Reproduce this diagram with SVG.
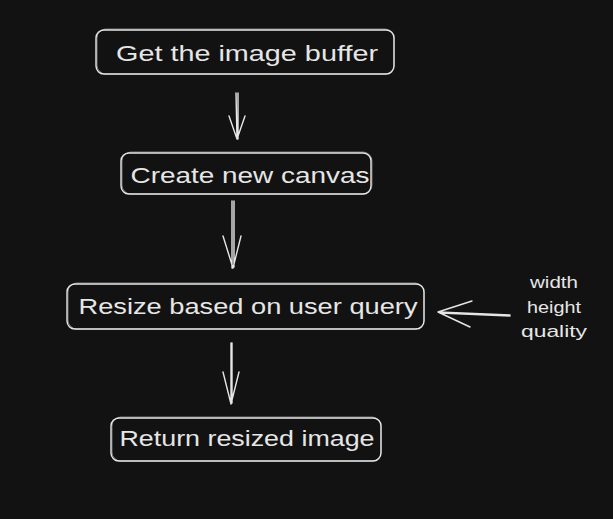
<svg xmlns="http://www.w3.org/2000/svg" width="613" height="519" viewBox="0 0 613 519">
<style>
.bx{fill:none;stroke:#e6e6e6;stroke-width:1.4}
.bx2{fill:none;stroke:#e6e6e6;stroke-width:0.8;opacity:0.6}
.t{font-family:"Liberation Sans","DejaVu Sans",sans-serif;font-size:22px;fill:#e6e6e6;text-anchor:middle}
.s{font-family:"Liberation Sans","DejaVu Sans",sans-serif;font-size:17px;fill:#e6e6e6;text-anchor:middle}
.ln{fill:none;stroke:#e6e6e6;stroke-width:1.4;stroke-linecap:round;stroke-linejoin:round}
</style>
<rect width="613" height="519" fill="#121212"/>
<g id="n1">
<rect class="bx" x="96" y="30" width="298" height="44" rx="8"/>
<rect class="bx2" x="97" y="29" width="297" height="45" rx="9"/>
<text class="t" x="247" y="61" textLength="262" lengthAdjust="spacingAndGlyphs">Get the image buffer</text>
</g>
<g id="n2">
<rect class="bx" x="121" y="153" width="250" height="41" rx="8"/>
<rect class="bx2" x="122" y="152" width="250" height="42" rx="9"/>
<text class="t" x="250" y="183" textLength="239" lengthAdjust="spacingAndGlyphs">Create new canvas</text>
</g>
<g id="n3">
<rect class="bx" x="67" y="284" width="357" height="45" rx="8"/>
<rect class="bx2" x="68" y="283" width="356" height="46" rx="9"/>
<text class="t" x="248" y="314" textLength="339" lengthAdjust="spacingAndGlyphs">Resize based on user query</text>
</g>
<g id="n4">
<rect class="bx" x="111" y="418" width="270" height="43" rx="8"/>
<rect class="bx2" x="112" y="417" width="269" height="44" rx="9"/>
<text class="t" x="247" y="446" textLength="255" lengthAdjust="spacingAndGlyphs">Return resized image</text>
</g>
<g id="params">
<text class="s" x="554" y="288" textLength="48" lengthAdjust="spacingAndGlyphs">width</text>
<text class="s" x="554" y="313" textLength="54" lengthAdjust="spacingAndGlyphs">height</text>
<text class="s" x="554" y="337" textLength="66" lengthAdjust="spacingAndGlyphs">quality</text>
</g>
<g id="connectors">
<path class="ln" d="M236 93 L237 139 M238 93 L238 139 M229 116 L237 139 L245 116"/>
<path class="ln" d="M232 201 L232 268 M234 201 L234 267 M223 236 L233 268 L241 236"/>
<path class="ln" d="M231 343 L231 404 M232 343 L232 403 M223 372 L231 404 L239 372"/>
<path class="ln" d="M510 315 L438 312 M510 316 L440 313 M472 301 L438 312 L470 327"/>
</g>
</svg>
